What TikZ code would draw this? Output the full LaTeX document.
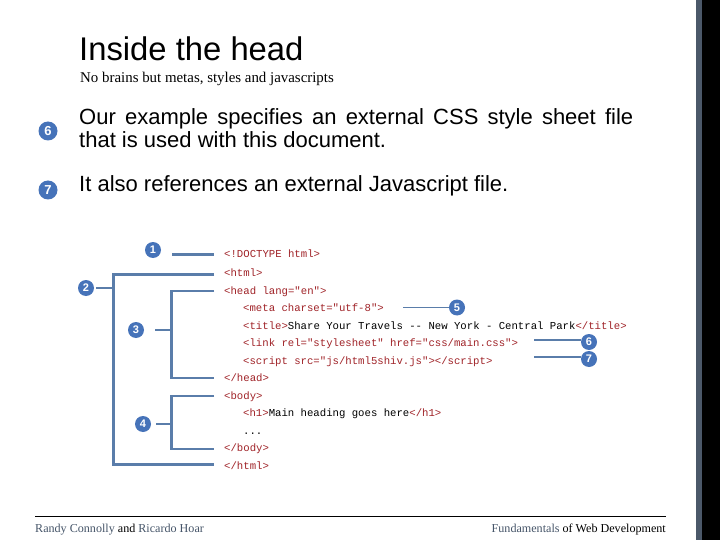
\documentclass[tikz,border=0pt]{standalone}
\usepackage{fontspec}
\setmainfont{Liberation Serif}
\newfontfamily\arialf{Liberation Sans}
\newfontfamily\codef{Liberation Mono}
\definecolor{tagred}{RGB}{160,35,40}
\definecolor{linkblue}{RGB}{90,125,170}
\definecolor{badge}{RGB}{70,115,185}
\definecolor{footgray}{RGB}{70,85,105}
\definecolor{stripe}{RGB}{75,88,105}
\tikzset{
  badgenode/.style={circle,fill=badge,inner sep=0pt,minimum size=#1,text=white,font=\arialf\bfseries\fontsize{11}{11}\selectfont},
  badgenode/.default=16pt,
  codeline/.style={anchor=base west,inner sep=0pt,font=\codef\fontsize{10.65}{12}\selectfont,text=tagred},
  conn/.style={draw=linkblue,line width=2.1pt},
  thinconn/.style={draw=linkblue,line width=1.3pt},
  bodytext/.style={anchor=base west,inner sep=0pt,font=\arialf\fontsize{22}{24}\selectfont},
  foot/.style={inner sep=0pt,font=\fontsize{12.1}{14}\selectfont}
}
\begin{document}
\begin{tikzpicture}[x=1pt,y=-1pt]
\useasboundingbox (0,0) rectangle (720,540);
\fill[white] (0,0) rectangle (720,540);
\fill[stripe] (696,0) rectangle (702,540);
\fill[black] (702,0) rectangle (720,540);
% titles
\node[anchor=base west,inner sep=0pt,font=\arialf\fontsize{32.8}{34}\selectfont] (title) at (79,61) {Inside the head};
\node[anchor=base west,inner sep=0pt,font=\fontsize{14.9}{16}\selectfont] (subtitle) at (80,82.5) {No brains but metas, styles and javascripts};
% bullets
\node[badgenode=19pt,font=\arialf\bfseries\fontsize{13}{13}\selectfont] (b6) at (48,131) {6};
\node[badgenode=19pt,font=\arialf\bfseries\fontsize{13}{13}\selectfont] (b7) at (48,190) {7};
\node[bodytext] (t6a) at (79,125) {\makebox[554pt][s]{Our example specifies an external CSS style sheet file}};
\node[bodytext] (t6b) at (79,148) {that is used with this document.};
\node[bodytext] (t7) at (79,192) {It also references an external Javascript file.};
% code
\node[codeline] (c1) at (224,258) {<!DOCTYPE html>};
\node[codeline] (c2) at (224,276) {<html>};
\node[codeline] (c3) at (224,294) {<head lang="en">};
\node[codeline] (c4) at (243,311.5) {<meta charset="utf-8">};
\node[codeline] (c5) at (243,329) {<title>\textcolor{black}{Share Your Travels -- New York - Central Park}</title>};
\node[codeline] (c6) at (243,346.5) {<link rel="stylesheet" href="css/main.css">};
\node[codeline] (c7) at (243,364) {<script src="js/html5shiv.js"></script>};
\node[codeline] (c8) at (224,381.5) {</head>};
\node[codeline] (c9) at (224,399) {<body>};
\node[codeline] (c10) at (243,416.5) {<h1>\textcolor{black}{Main heading goes here}</h1>};
\node[codeline,text=black] (c11) at (243,434) {...};
\node[codeline] (c12) at (224,451.5) {</body>};
\node[codeline] (c13) at (224,469) {</html>};
% badges
\node[badgenode] (n1) at (153,250) {1};
\node[badgenode] (n2) at (86,288) {2};
\node[badgenode] (n3) at (136,330) {3};
\node[badgenode] (n4) at (143,424) {4};
\node[badgenode] (n5) at (457,307.5) {5};
\node[badgenode] (n6) at (589,342) {6};
\node[badgenode] (n7) at (589,359) {7};
% connector coordinates
\coordinate (e1) at (214,254.5);
\coordinate (e2a) at (214,274.5);
\coordinate (e2b) at (214,464.5);
\coordinate (e3a) at (214,291);
\coordinate (e3b) at (214,378);
\coordinate (e4a) at (214,396);
\coordinate (e4b) at (214,449);
\coordinate (s5) at (403,307.5);
\coordinate (s6) at (534,340);
\coordinate (s7) at (534,357);
% connectors
\draw[conn] (172,254.5) -- (e1);
\draw[conn] (e2a) -| (113.5,464.5) -- (e2b);
\draw[conn] (n2.east) ++(2,0) -- (113.5,288);
\draw[conn] (e3a) -| (171.5,378) -- (e3b);
\draw[conn] (155,330) -- (171.5,330);
\draw[conn] (e4a) -| (171.5,449) -- (e4b);
\draw[thinconn] (156,424) -- (171.5,424);
\draw[thinconn] (s5) -- (n5.west);
\draw[conn] (s6) -- (n6.west |- s6);
\draw[conn] (s7) -- (n7.west |- s7);
% footer
\draw[black,line width=0.8pt] (35,516) -- (666,516) coordinate (fr);
\node[foot,anchor=base west,text=footgray] (fl) at (35,532) {Randy Connolly \textcolor{black}{and} Ricardo Hoar};
\node[foot,anchor=base east] (frt) at (666,532) {\textcolor{footgray}{Fundamentals} of Web Development};
\end{tikzpicture}
\end{document}
